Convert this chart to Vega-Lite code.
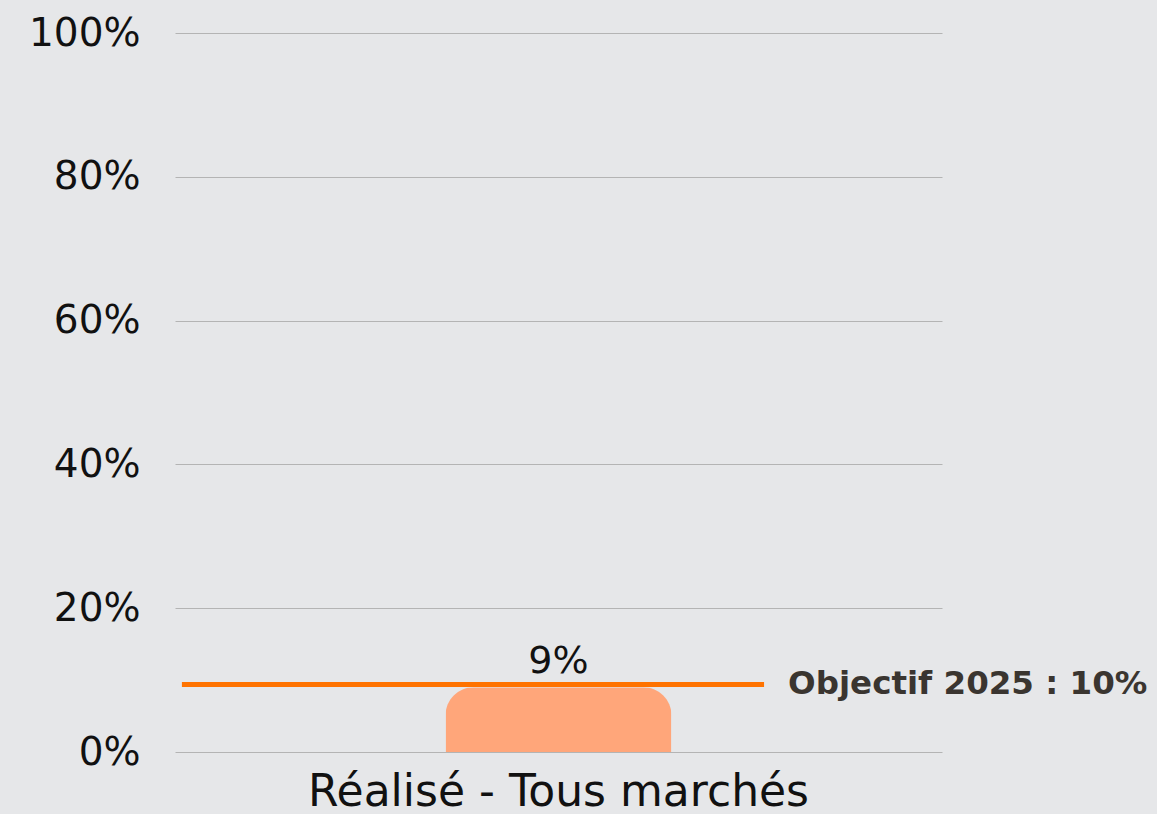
{
  "$schema": "https://vega.github.io/schema/vega-lite/v6.json",
  "autosize": "none",
  "width": 767,
  "height": 719,
  "padding": {"left": 175, "top": 33, "right": 215, "bottom": 62},
  "background": "#e6e7e9",
  "config": {
    "view": {"stroke": null},
    "font": "DejaVu Sans"
  },
  "layer": [
    {
      "data": {"values": [{"categorie": "Réalisé - Tous marchés", "taux": 9, "etiquette": "9%"}]},
      "layer": [
        {
          "mark": {"type": "bar", "color": "#ffa67a", "cornerRadiusTopLeft": 28, "cornerRadiusTopRight": 28},
          "encoding": {
            "x": {"field": "categorie", "type": "nominal", "scale": {"padding": 0.545},
              "axis": {"title": null, "domain": false, "ticks": false, "labelAngle": 0, "labelFontSize": 44, "labelColor": "#111111", "labelPadding": 18, "labelLimit": 0, "labelFontWeight": "normal"}},
            "y": {"field": "taux", "type": "quantitative", "scale": {"domain": [0, 100], "nice": false},
              "axis": {"title": null, "values": [0, 20, 40, 60, 80, 100], "labelExpr": "datum.value + '%'", "domain": false, "ticks": false, "gridColor": "#b4b4b4", "gridWidth": 1, "labelFontSize": 39, "labelColor": "#111111", "labelPadding": 35, "labelFontWeight": "normal"}}
          }
        },
        {
          "mark": {"type": "text", "baseline": "bottom", "dy": -6, "fontSize": 38, "color": "#111111"},
          "encoding": {
            "x": {"field": "categorie", "type": "nominal"},
            "y": {"field": "taux", "type": "quantitative"},
            "text": {"field": "etiquette"}
          }
        }
      ]
    },
    {
      "data": {"values": [{"debut": 0.009, "fin": 0.768, "objectif": 9.4, "libelle": "Objectif 2025 : 10%"}]},
      "layer": [
        {
          "mark": {"type": "rule", "color": "#ff7300", "strokeWidth": 5},
          "encoding": {
            "x": {"field": "debut", "type": "quantitative", "scale": {"domain": [0, 1], "nice": false, "zero": false}, "axis": null},
            "x2": {"field": "fin"},
            "y": {"field": "objectif", "type": "quantitative"}
          }
        },
        {
          "mark": {"type": "text", "align": "left", "baseline": "middle", "dx": 24, "fontSize": 32.5, "fontWeight": "bold", "color": "#3a3530"},
          "encoding": {
            "x": {"field": "fin", "type": "quantitative", "axis": null},
            "y": {"field": "objectif", "type": "quantitative"},
            "text": {"field": "libelle"}
          }
        }
      ]
    }
  ],
  "resolve": {"scale": {"x": "independent"}}
}
